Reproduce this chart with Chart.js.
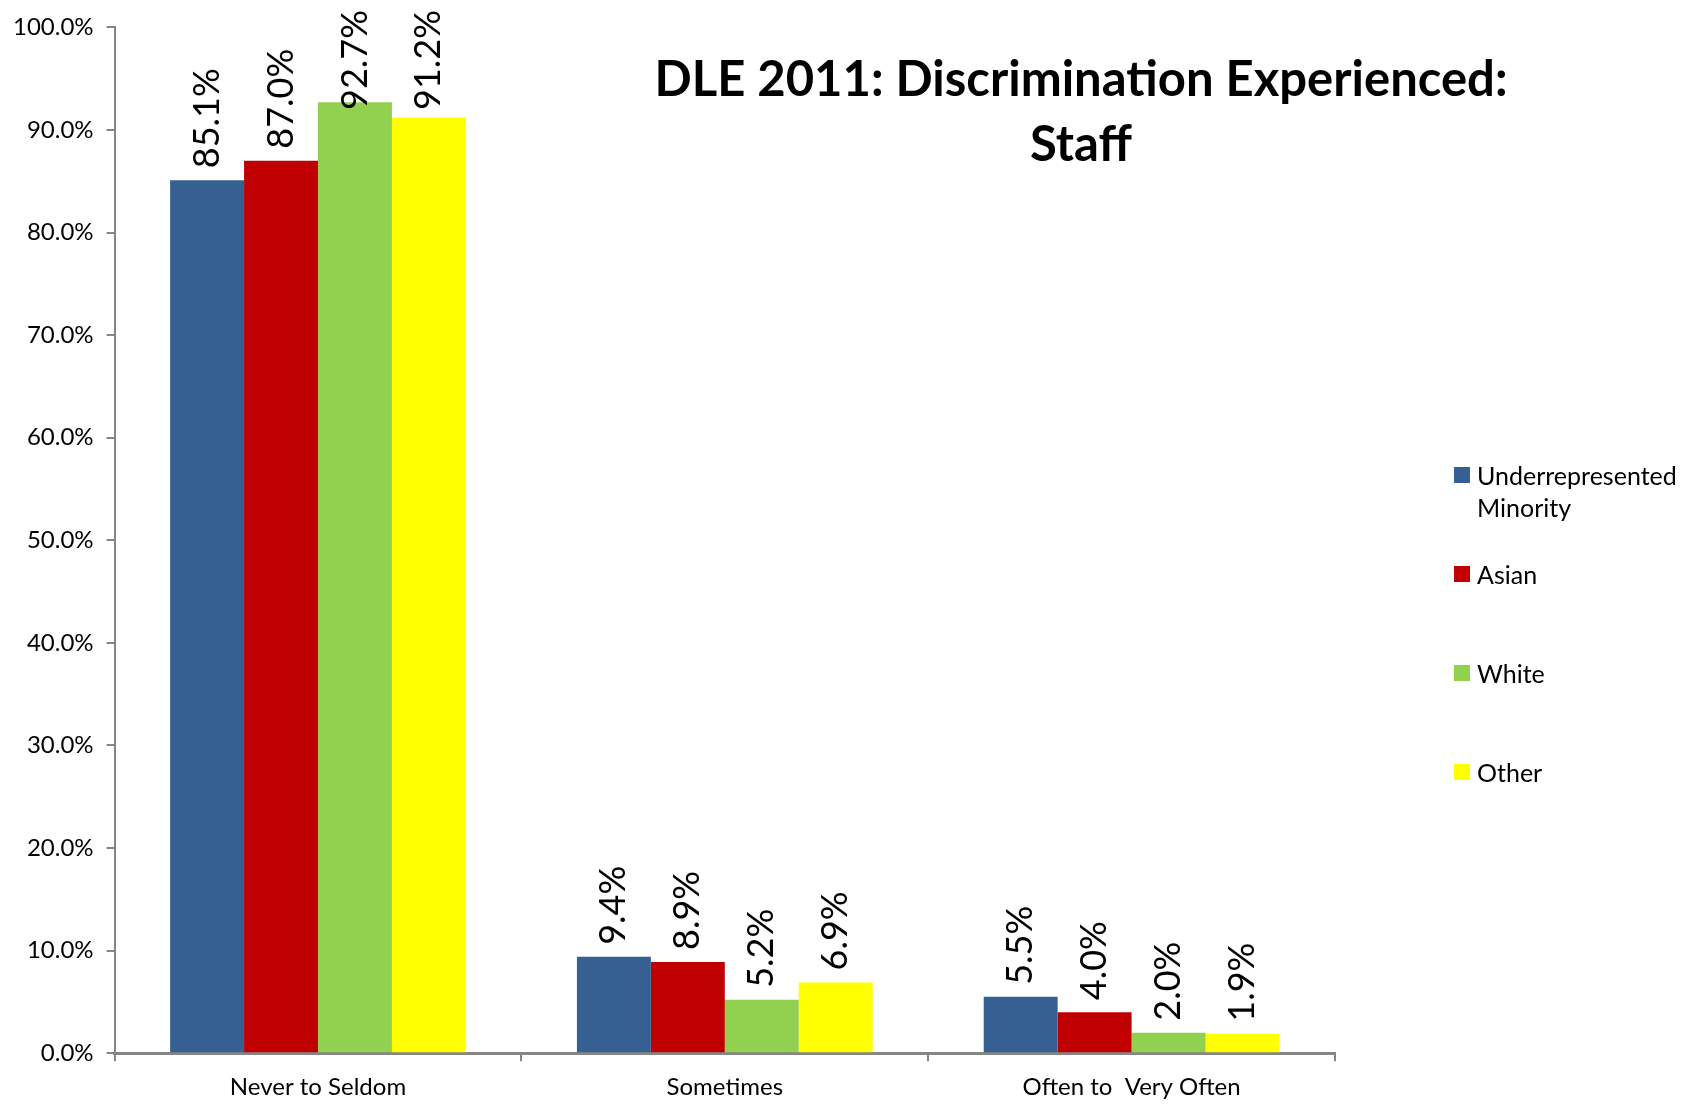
<!DOCTYPE html>
<html>
<head>
<meta charset="utf-8">
<script src="https://cdn.jsdelivr.net/npm/chart.js@4.4.0/dist/chart.umd.min.js"></script>
<style>
  html, body { margin: 0; padding: 0; background: #fff; }
  #wrap { position: relative; width: 1690px; height: 1104px; font-family: Lato, 'Open Sans', sans-serif; }
  #chart { position: absolute; left: 0; top: 0; }
  #title {
    position: absolute; left: 581px; top: 45px; width: 1000px;
    text-align: center; font-weight: bold; font-size: 49px; line-height: 65px; color: #000;
  }
  #legend { position: absolute; left: 1454px; top: 459px; }
  .item { display: flex; align-items: flex-start; height: 99px; }
  .box { width: 16px; height: 16px; margin-top: 8px; margin-right: 7px; flex: none; }
  .lbl { font-size: 25px; line-height: 32px; width: 230px; color: #000; }
</style>
</head>
<body>
<div id="wrap">
  <canvas id="chart" width="1690" height="1104"></canvas>
  <div id="title">DLE 2011: Discrimination Experienced:<br>Staff</div>
  <div id="legend"></div>
</div>
<script>
// Chart data
const categories = ['Never to Seldom', 'Sometimes', 'Often to  Very Often'];
const seriesNames = ['Underrepresented Minority', 'Asian', 'White', 'Other'];
const urmValues = [85.1, 9.4, 5.5];
const asianValues = [87.0, 8.9, 4.0];
const whiteValues = [92.7, 5.2, 2.0];
const otherValues = [91.2, 6.9, 1.9];
const seriesColors = ['#376092', '#C00000', '#92D050', '#FFFF00'];

const allValues = [urmValues, asianValues, whiteValues, otherValues];
const axisGray = '#868686';
const fontFamily = 'Lato, "Open Sans", sans-serif';

// rotated value labels above bars
const barLabels = {
    id: 'barLabels',
    afterDatasetsDraw(chart) {
        const ctx = chart.ctx;
        ctx.save();
        ctx.font = '36px ' + fontFamily;
        ctx.fillStyle = '#000';
        ctx.textBaseline = 'middle';
        ctx.textAlign = 'left';
        chart.data.datasets.forEach(function (ds, i) {
            const meta = chart.getDatasetMeta(i);
            meta.data.forEach(function (bar, j) {
                const text = ds.data[j].toFixed(1) + '%';
                const w = ctx.measureText(text).width;
                let y0 = bar.y - 12;
                if (y0 - w < 10) y0 = 10 + w;
                ctx.save();
                ctx.translate(bar.x, y0);
                ctx.rotate(-Math.PI / 2);
                ctx.fillText(text, 0, 0);
                ctx.restore();
            });
        });
        ctx.restore();
    }
};

const legendEl = document.getElementById('legend');
seriesNames.forEach(function (name, i) {
    const item = document.createElement('div');
    item.className = 'item';
    item.innerHTML = '<div class="box" style="background:' + seriesColors[i] + '"></div><div class="lbl">' + name + '</div>';
    legendEl.appendChild(item);
});

new Chart(document.getElementById('chart'), {
    type: 'bar',
    data: {
        labels: categories,
        datasets: seriesNames.map(function (name, i) {
            return {
                label: name,
                data: allValues[i],
                backgroundColor: seriesColors[i],
                borderWidth: 0,
                categoryPercentage: 0.727,
                barPercentage: 1.0
            };
        })
    },
    options: {
        responsive: false,
        animation: false,
        layout: { padding: { top: 2, right: 355, left: 0, bottom: -10 } },
        plugins: {
            legend: { display: false },
            tooltip: { enabled: false }
        },
        scales: {
            x: {
                grid: { offset: true, drawOnChartArea: false, drawTicks: true, tickLength: 8, color: axisGray, lineWidth: 2 },
                border: { display: true, color: axisGray, width: 3 },
                ticks: { color: '#000', font: { size: 24, family: fontFamily }, padding: 12 }
            },
            y: {
                min: 0,
                max: 100,
                ticks: {
                    stepSize: 10,
                    color: '#000',
                    padding: 13,
                    font: { size: 24, family: fontFamily },
                    callback: function (v) { return v.toFixed(1) + '%'; }
                },
                grid: { drawOnChartArea: false, drawTicks: true, tickLength: 8, color: axisGray, lineWidth: 2 },
                border: { display: true, color: axisGray, width: 2 }
            }
        }
    },
    plugins: [barLabels]
});
</script>
</body>
</html>
